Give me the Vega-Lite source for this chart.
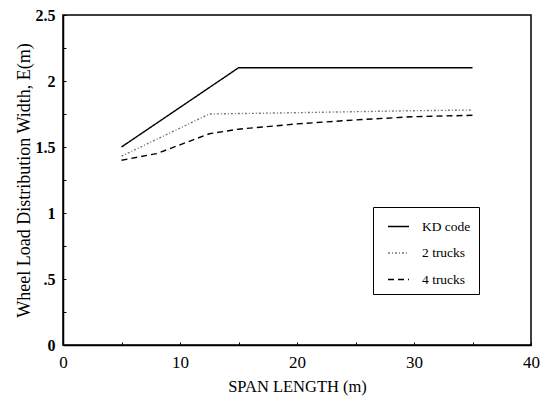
{
  "$schema": "https://vega.github.io/schema/vega-lite/v6.json",
  "width": 468,
  "height": 330,
  "autosize": {"type": "none"},
  "padding": {"left": 63, "top": 15, "right": 9, "bottom": 62},
  "background": "white",
  "config": {
    "font": "Liberation Serif",
    "view": {"stroke": "black", "strokeWidth": 1.5},
    "axis": {"grid": false, "domainColor": "black", "domainWidth": 1.5, "tickColor": "black", "labelColor": "black", "titleColor": "black", "labelFont": "Liberation Serif", "titleFont": "Liberation Serif", "titleFontWeight": "normal"},
    "legend": {
      "title": null,
      "orient": "none",
      "legendX": 310,
      "legendY": 192,
      "strokeColor": "black",
      "padding": 8,
      "symbolOffset": 6,
      "columnPadding": 0,
      "symbolType": "stroke",
      "symbolSize": 441,
      "symbolStrokeWidth": 1.4,
      "labelFontSize": 13.5,
      "labelFont": "Liberation Serif",
      "labelColor": "black",
      "labelOffset": 12,
      "rowPadding": 8.5
    }
  },
  "data": {
    "values": [
      {"span": 5, "E": 1.50, "series": "KD code"},
      {"span": 15, "E": 2.10, "series": "KD code"},
      {"span": 35, "E": 2.10, "series": "KD code"},
      {"span": 5, "E": 1.43, "series": "2 trucks"},
      {"span": 12.5, "E": 1.75, "series": "2 trucks"},
      {"span": 20, "E": 1.76, "series": "2 trucks"},
      {"span": 30, "E": 1.775, "series": "2 trucks"},
      {"span": 35, "E": 1.78, "series": "2 trucks"},
      {"span": 5, "E": 1.40, "series": "4 trucks"},
      {"span": 8, "E": 1.45, "series": "4 trucks"},
      {"span": 12.5, "E": 1.60, "series": "4 trucks"},
      {"span": 15, "E": 1.635, "series": "4 trucks"},
      {"span": 20, "E": 1.675, "series": "4 trucks"},
      {"span": 25, "E": 1.705, "series": "4 trucks"},
      {"span": 30, "E": 1.73, "series": "4 trucks"},
      {"span": 35, "E": 1.74, "series": "4 trucks"}
    ]
  },
  "mark": {"type": "line", "strokeWidth": 1.4},
  "encoding": {
    "x": {
      "field": "span", "type": "quantitative",
      "scale": {"domain": [0, 40], "nice": false},
      "axis": {
        "title": "SPAN  LENGTH (m)",
        "titleFontSize": 16.5,
        "titlePadding": 8,
        "values": [0, 5, 10, 15, 20, 25, 30, 35, 40],
        "labelExpr": "datum.value % 10 == 0 ? datum.label : ''",
        "labelFontSize": 17,
        "labelPadding": 12,
        "tickSize": -3,
        "labelFlush": false
      }
    },
    "y": {
      "field": "E", "type": "quantitative",
      "scale": {"domain": [0, 2.5], "nice": false},
      "axis": {
        "title": "Wheel Load Distribution Width, E(m)",
        "titleFontSize": 18,
        "titlePadding": 2,
        "values": [0, 0.25, 0.5, 0.75, 1, 1.25, 1.5, 1.75, 2, 2.25, 2.5],
        "labelExpr": "datum.value == 0.5 ? '.5' : (datum.value * 2 == floor(datum.value * 2) ? format(datum.value, '~g') : '')",
        "labelFontSize": 16,
        "labelFontWeight": "bold",
        "labelPadding": 11,
        "tickSize": -3,
        "labelFlush": false
      }
    },
    "color": {
      "field": "series", "type": "nominal",
      "scale": {"domain": ["KD code", "2 trucks", "4 trucks"], "range": ["black", "#777777", "black"]}
    },
    "strokeDash": {
      "field": "series", "type": "nominal",
      "scale": {"domain": ["KD code", "2 trucks", "4 trucks"], "range": [[1, 0], [2, 2, 1, 2], [6, 4]]}
    }
  }
}
